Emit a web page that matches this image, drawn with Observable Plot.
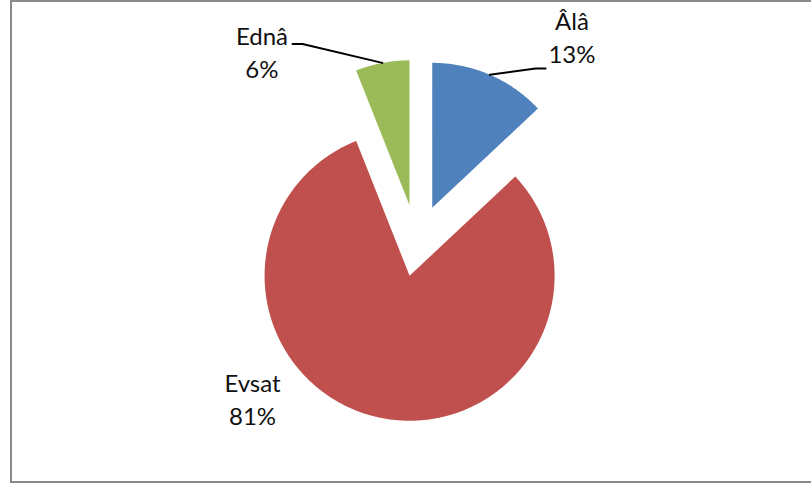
<!DOCTYPE html>
<html><head><meta charset="utf-8">
<script src="https://cdn.jsdelivr.net/npm/d3@7"></script>
<script src="https://cdn.jsdelivr.net/npm/@observablehq/plot@0.6"></script>
<style>
body{margin:0;background:#fff;overflow:hidden;}
#wrap{position:relative;width:811px;height:483px;overflow:hidden;}
#frame{position:absolute;left:10px;top:0;width:805px;height:483px;box-sizing:border-box;border:2px solid #8a8a8a;pointer-events:none;}
</style></head><body><div id="wrap"><div id="chart"></div><div id="frame"></div></div>
<script>
// ---- data ----
const categories = ["Âlâ", "Evsat", "Ednâ"];
const values = [13, 81, 6];
const colors = ["#4F81BD", "#C0504D", "#9BBB59"];

// ---- layout (in pie-radius units, pie centre = 0,0) ----
const explode = [0.268, 0.228, 0.268];
const labelAt = [[1.070, 1.245], [-1.133, -1.255], [-1.068, 1.138]]; // baseline of last line
const leaderElbow = [[0.819, 1.207], null, [-0.788, 1.376]];
const leaderEnd = [[0.888, 1.207], null, [-0.857, 1.376]];

const W = 811, H = 483, R = 145, CX = 416.3, CY = 243;
const fs = 24;

const total = d3.sum(values);
const arcs = d3.pie().sort(null).value(d => d)(values);

const slices = [];
const leaders = [];
const labels = [];
arcs.forEach((a, i) => {
  const mid = (a.startAngle + a.endAngle) / 2;
  const ox = explode[i] * Math.sin(mid), oy = explode[i] * Math.cos(mid);
  const n = Math.max(4, Math.ceil((a.endAngle - a.startAngle) / 0.01));
  slices.push({cat: categories[i], x: ox, y: oy});
  for (let k = 0; k <= n; k++) {
    const t = a.startAngle + (a.endAngle - a.startAngle) * k / n;
    slices.push({cat: categories[i], x: ox + Math.sin(t), y: oy + Math.cos(t)});
  }
  slices.push({cat: categories[i], x: ox, y: oy});
  if (leaderElbow[i]) {
    leaders.push({cat: categories[i], x: ox + Math.sin(mid), y: oy + Math.cos(mid)});
    leaders.push({cat: categories[i], x: leaderElbow[i][0], y: leaderElbow[i][1]});
    leaders.push({cat: categories[i], x: leaderEnd[i][0], y: leaderEnd[i][1]});
  }
  labels.push({cat: categories[i], x: labelAt[i][0], y: labelAt[i][1],
    text: categories[i] + "\n" + Math.round(values[i] / total * 100) + "%"});
});

const chart = Plot.plot({
  width: W, height: H,
  margin: 0,
  x: {domain: [(0 - CX) / R, (W - CX) / R], axis: null},
  y: {domain: [(CY - H) / R, CY / R], axis: null},
  color: {domain: categories, range: colors},
  style: {background: "transparent"},
  marks: [
    Plot.line(slices, {x: "x", y: "y", z: "cat", fill: "cat", stroke: "none", curve: "linear"}),
    Plot.line(leaders, {x: "x", y: "y", z: "cat", stroke: "#000", strokeWidth: 2, curve: "linear"}),
    Plot.text(labels, {x: "x", y: "y", text: "text", fontSize: fs, lineAnchor: "bottom",
      lineHeight: 33 / fs, fill: "#111", fontFamily: "Lato, sans-serif", textAnchor: "middle"})
  ]
});
document.getElementById("chart").appendChild(chart);
</script></body></html>
